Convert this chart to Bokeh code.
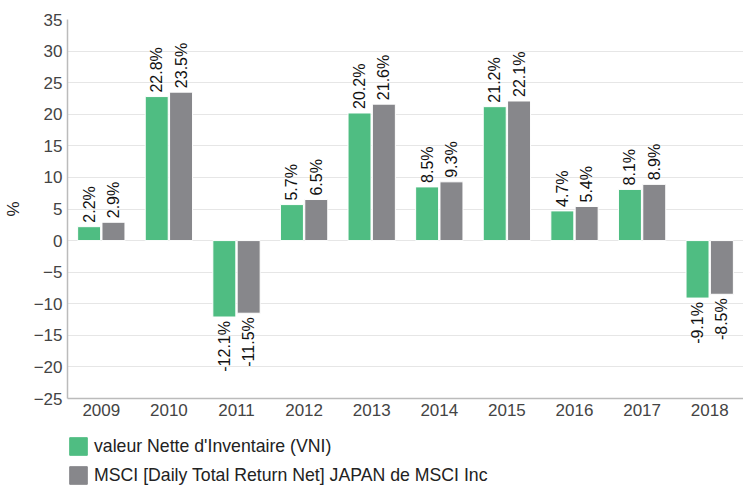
from bokeh.plotting import figure
from bokeh.layouts import column
from bokeh.models import ColumnDataSource, FactorRange, Legend, LegendItem, FixedTicker, Range1d
from bokeh.transform import dodge
from bokeh.core.properties import value
from bokeh.embed import file_html
from bokeh.resources import INLINE

years = ["2009", "2010", "2011", "2012", "2013", "2014", "2015", "2016", "2017", "2018"]
vni = [2.2, 22.8, -12.1, 5.7, 20.2, 8.5, 21.2, 4.7, 8.1, -9.1]
msci = [2.9, 23.5, -11.5, 6.5, 21.6, 9.3, 22.1, 5.4, 8.9, -8.5]
y_ticks = [-25, -20, -15, -10, -5, 0, 5, 10, 15, 20, 25, 30, 35]
name_vni = "valeur Nette d'Inventaire (VNI)"
name_msci = "MSCI [Daily Total Return Net] JAPAN de MSCI Inc"

GREEN = "#4fbd82"
GRAY = "#87878b"
FONT = "Liberation Sans"

def lbl(v):
    return f"{v:.1f}%"

src = ColumnDataSource(dict(years=years, vni=vni, msci=msci))

p = figure(x_range=FactorRange(*years), y_range=Range1d(-25, 35),
           width=743, height=430, output_backend="svg", toolbar_location=None,
           min_border_left=67, min_border_right=0, min_border_top=19, min_border_bottom=32)
p.outline_line_color = None

p.vbar(x=dodge("years", -0.18, range=p.x_range), top="vni", bottom=0, width=0.34,
       source=src, fill_color=GREEN, line_color="white", line_width=1)
p.vbar(x=dodge("years", 0.18, range=p.x_range), top="msci", bottom=0, width=0.34,
       source=src, fill_color=GRAY, line_color="white", line_width=1)

for vals, dx in [(vni, -0.18), (msci, 0.18)]:
    pos = [i for i, v in enumerate(vals) if v >= 0]
    neg = [i for i, v in enumerate(vals) if v < 0]
    for idx, align, yoff in [(pos, "left", 4), (neg, "right", -4)]:
        s = ColumnDataSource(dict(years=[years[i] for i in idx], y=[vals[i] for i in idx],
                                  t=[lbl(vals[i]) for i in idx]))
        p.text(x=dodge("years", dx, range=p.x_range), y="y", text="t", source=s,
               angle=1.5708, text_align=align, text_baseline="middle", y_offset=-yoff,
               text_font=value(FONT), text_font_size="16px", text_color="#111111")

p.yaxis.ticker = FixedTicker(ticks=y_ticks)
p.yaxis.axis_label = "%"
p.yaxis.axis_label_text_font = FONT
p.yaxis.axis_label_text_font_style = "normal"
p.yaxis.axis_label_text_font_size = "17px"
p.yaxis.axis_label_text_color = "#222222"
p.yaxis.axis_label_standoff = 8
for ax in (p.xaxis, p.yaxis):
    ax.major_label_text_font = FONT
    ax.major_label_text_font_size = "17px"
    ax.major_label_text_color = "#444444"
    ax.major_tick_line_color = None
    ax.minor_tick_line_color = None
    ax.major_tick_out = 0
    ax.major_tick_in = 0
    ax.minor_tick_out = 0
    ax.minor_tick_in = 0
    ax.axis_line_color = "#bbbbbb"
    ax.axis_line_width = 1.5
p.yaxis.major_label_standoff = 5
p.xaxis.major_label_standoff = 5
p.xgrid.grid_line_color = None
p.ygrid.grid_line_color = "#e6e6e6"
p.ygrid.ticker = FixedTicker(ticks=y_ticks)

# legend panel: same series drawn in a range where nothing is visible, only the legend shows
lg = figure(width=743, height=56, output_backend="svg", toolbar_location=None,
            x_range=FactorRange(*years), y_range=Range1d(1000, 1001),
            min_border_left=44, min_border_top=5, min_border_right=0, min_border_bottom=0,
            x_axis_type=None, y_axis_type=None)
lg.outline_line_color = None
lg.grid.visible = False
d1 = lg.vbar(x="years", top="vni", bottom=0, width=0.3, source=src, fill_color=GREEN, line_color=GREEN)
d2 = lg.vbar(x="years", top="msci", bottom=0, width=0.3, source=src, fill_color=GRAY, line_color=GRAY)

legend = Legend(items=[LegendItem(label=name_vni, renderers=[d1]),
                       LegendItem(label=name_msci, renderers=[d2])],
                orientation="vertical", location="top_left",
                label_text_font=FONT, label_text_font_size="17.7px", label_text_color="#222222",
                glyph_width=22, glyph_height=22, label_height=22, spacing=7,
                padding=0, margin=0, border_line_color=None, background_fill_alpha=0,
                label_standoff=5)
lg.add_layout(legend, "center")

layout = column(p, lg, spacing=0)
open("out.html", "w").write(file_html(layout, INLINE))
